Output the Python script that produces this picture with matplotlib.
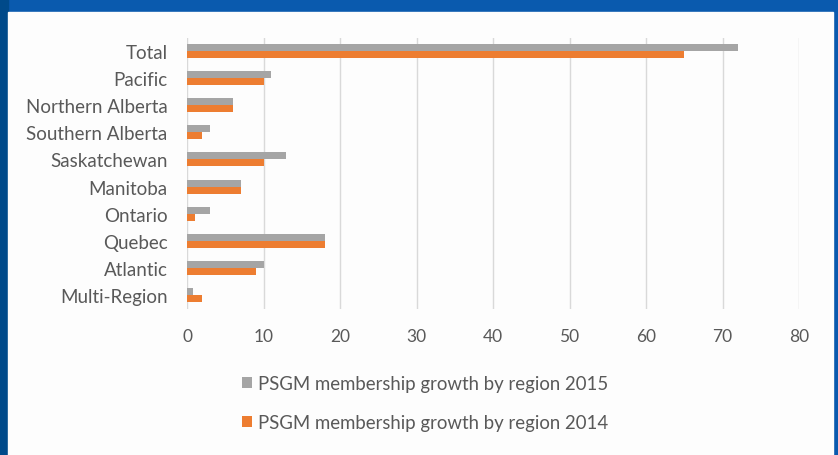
import numpy as np
import matplotlib.pyplot as plt
from matplotlib.patches import Rectangle

regions = ['Total', 'Pacific', 'Northern Alberta', 'Southern Alberta', 'Saskatchewan',
           'Manitoba', 'Ontario', 'Quebec', 'Atlantic', 'Multi-Region']
growth_2015 = [72, 11, 6, 3, 13, 7, 3, 18, 10, 0.8]
growth_2014 = [65, 10, 6, 2, 10, 7, 1, 18, 9, 2]
label_2015 = 'PSGM membership growth by region 2015'
label_2014 = 'PSGM membership growth by region 2014'
x_ticks = [0, 10, 20, 30, 40, 50, 60, 70, 80]

plt.rcParams['font.family'] = ['Lato', 'DejaVu Sans']
txt_color = '#595959'

fig = plt.figure(figsize=(8.38, 4.56), dpi=100)
fig.patch.set_facecolor('#0a5aae')
# slide frame: darker left strip, white panel (behind the axes)
fig.patches.append(Rectangle((0, 0), 8 / 838, 1, transform=fig.transFigure,
                             color='#004a8a', zorder=-2))
fig.patches.append(Rectangle((8 / 838, 0), 825 / 838, 443 / 456, transform=fig.transFigure,
                             color='#fdfdfd', zorder=-1))

ax = fig.add_axes([187 / 838, 1 - 309.5 / 456, 612 / 838, 271 / 456])
ax.set_facecolor('none')

y = np.arange(len(regions))
h = 0.26
ax.barh(y - h / 2, growth_2015, height=h, color='#a5a5a5', label=label_2015, zorder=3)
ax.barh(y + h / 2, growth_2014, height=h, color='#ed7d31', label=label_2014, zorder=3)

ax.set_ylim(len(regions) - 0.5, -0.5)
ax.set_xlim(0, 80)
ax.set_yticks(y)
ax.set_yticklabels(regions, fontsize=13.5, color=txt_color)
ax.set_xticks(x_ticks)
ax.set_xticklabels([str(t) for t in x_ticks], fontsize=12.5, color=txt_color)
ax.tick_params(length=0)
ax.tick_params(axis='y', pad=14)
ax.tick_params(axis='x', pad=14)
ax.grid(axis='x', color='#d9d9d9', linewidth=1, zorder=0)
for s in ax.spines.values():
    s.set_visible(False)

handles, labels = ax.get_legend_handles_labels()
fig.legend(handles, labels, loc='upper left', bbox_to_anchor=(225 / 838, 1 - 359 / 456),
           frameon=False, fontsize=13.4, labelcolor=txt_color, handlelength=0.55,
           handleheight=0.55, handletextpad=0.3, labelspacing=1.2)

fig.savefig('out.png', dpi=100, facecolor=fig.get_facecolor())
